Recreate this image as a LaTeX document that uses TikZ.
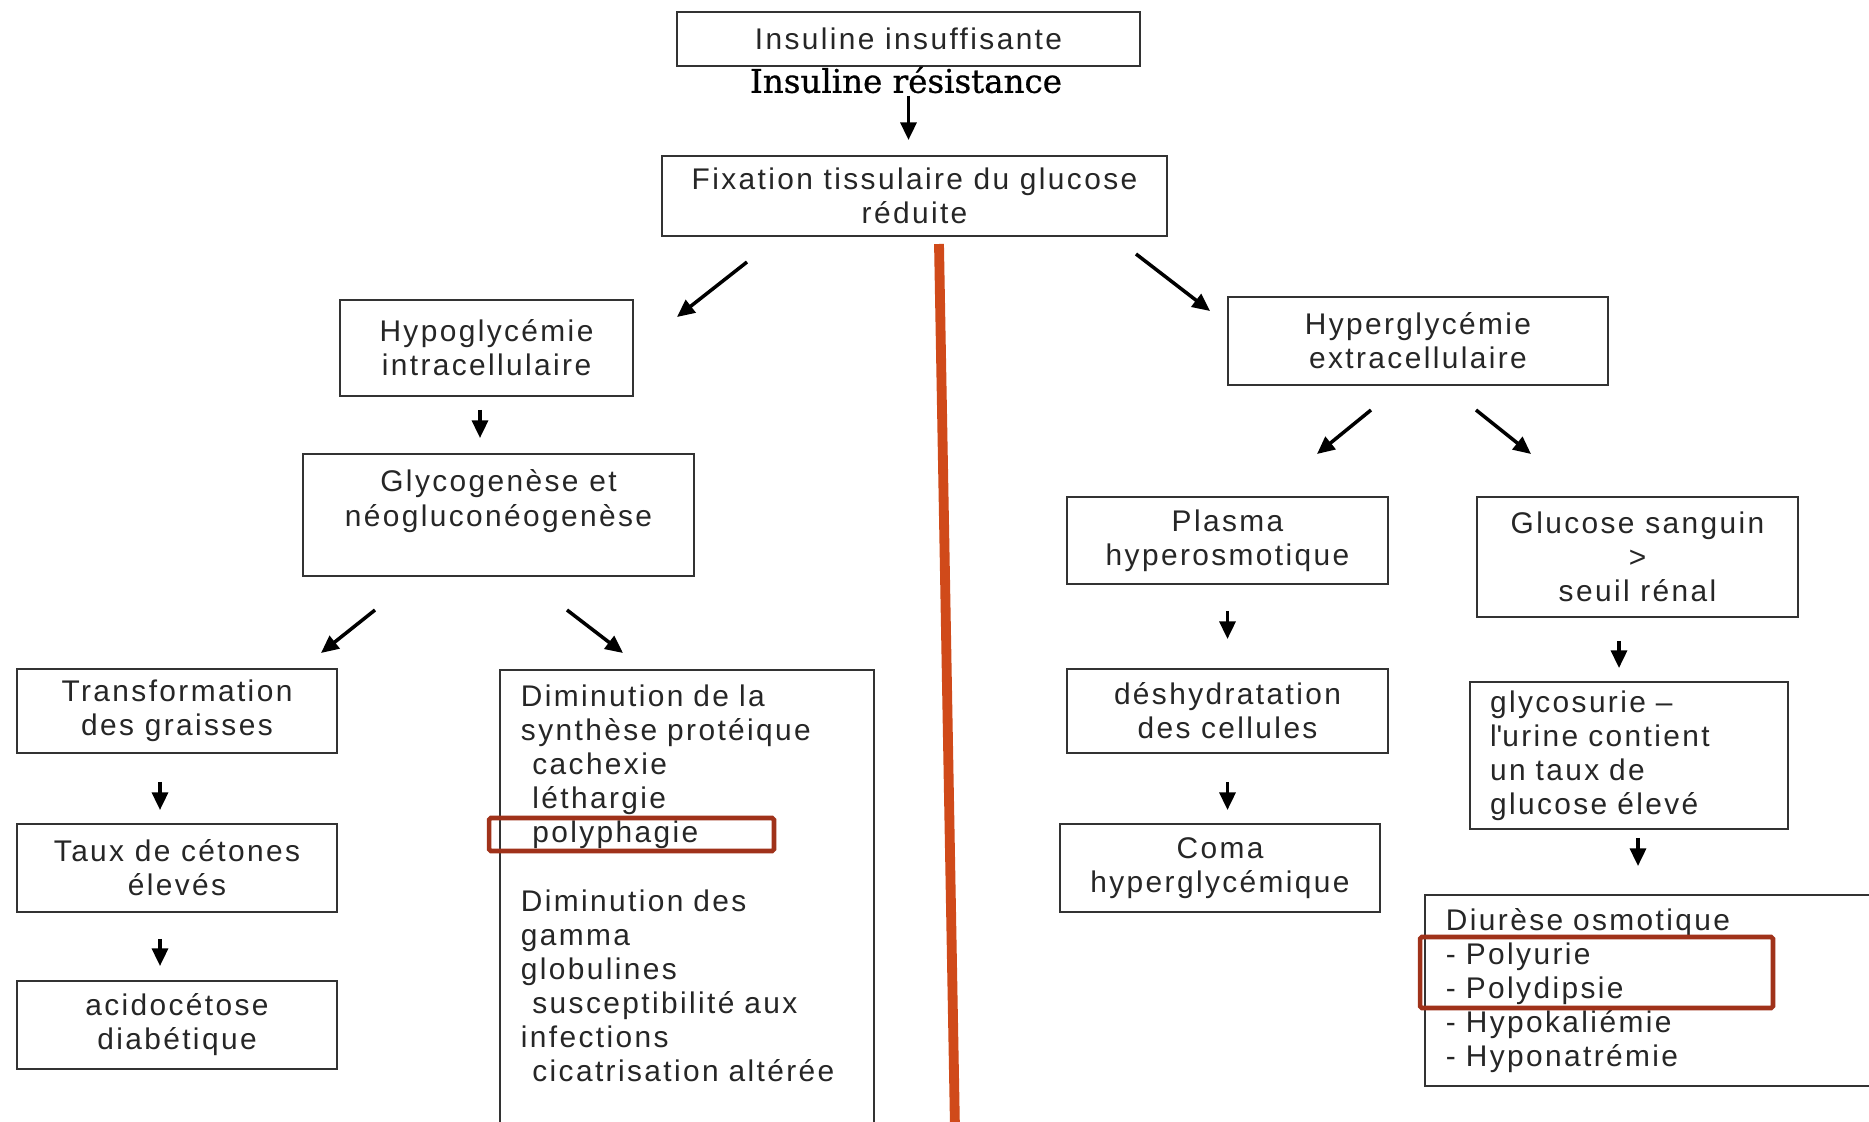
\documentclass[tikz,border=0pt]{standalone}
\usepackage{fontspec}
\setmainfont{Liberation Sans}[LetterSpace=8, Ligatures=NoCommon]
\newfontfamily\resfont{DejaVu Serif}[FakeBold=0.8]
\usepackage{xcolor}
\usepackage{tikz}
\usetikzlibrary{
    positioning,
    arrows.meta,
}
\definecolor{divider}{HTML}{D04A1A}
\definecolor{hilite}{HTML}{A0321A}
\newcommand{\boxfont}{\fontsize{17pt}{19.4pt}\selectfont}
\tikzset{
    % Box styles
    box/.style={rectangle, draw=black!80, line width=1.1pt, align=center,
                inner sep=2pt, text=black!85, font=\boxfont},
    list box/.style={box, align=left, inner xsep=0.42cm},
    % Arrow styles
    arr/.style={-{Triangle[length=10pt, width=9pt]}, line width=2pt},
    % Highlight styles
    hl/.style={rectangle, draw=hilite, line width=2.6pt, rounded corners=1pt,
               inner sep=0pt},
    cut/.style={draw=divider, line width=5.6pt},
}
\newcommand{\ind}{\hspace*{6.5pt}}

\begin{document}
\begin{tikzpicture}[x=0.02cm, y=-0.02cm]
    \clip (0,0) rectangle (1869,1122);
    \fill[white] (0,0) rectangle (1869,1122);

    % Top
    \node[box, minimum width=9.26cm, minimum height=1.08cm] (insuf) at (908.5,39) {Insuline insuffisante};
    \node[font=\resfont\fontsize{18.5pt}{20pt}\selectfont, inner sep=0pt] (resist) at (906,80) {Insuline résistance};
    \node[box, minimum width=10.1cm, minimum height=1.6cm] (fix) at (914.5,196) {Fixation tissulaire du glucose\\réduite};
    \draw[arr, shorten <=0.58cm, shorten >=0.3cm] (insuf.south) -- (insuf.south |- fix.north);

    % Divider
    \draw[cut] (939,244) -- (955,1130);

    % Left branch
    \node[box, minimum width=5.86cm, minimum height=1.92cm] (hypo) at (486.5,348) {Hypoglycémie\\intracellulaire};
    \node[box, minimum width=7.82cm, minimum height=2.44cm] (glyco) at (498.5,515) {Glycogenèse et\\néogluconéogenèse\\~};
    \node[box, minimum width=6.4cm, minimum height=1.68cm] (trans) at (177,711) {Transformation\\des graisses};
    \node[box, minimum width=6.4cm, minimum height=1.76cm] (taux) at (177,868) {Taux de cétones\\élevés};
    \node[box, minimum width=6.4cm, minimum height=1.76cm] (acido) at (177,1025) {acidocétose\\diabétique};
    \node[list box, text width=6.64cm, inner ysep=0.3cm, anchor=north west] (dimin) at (499,669) {%
        Diminution de la\\synthèse protéique\\\ind cachexie\\\ind léthargie\\\ind polyphagie\\[19.4pt]%
        Diminution des\\gamma\\globulines\\\ind susceptibilité aux\\infections\\\ind cicatrisation altérée\\~\\~};
    \node[hl, minimum width=5.7cm, minimum height=0.66cm] (hlpoly) at (631.5,834.5) {};

    \coordinate (fixL) at (747,262);
    \coordinate (hypoT) at (677,317);
    \coordinate (glycoL) at (375,610);
    \coordinate (transT) at (321,653);
    \coordinate (glycoR) at (567,610);
    \coordinate (diminT) at (623,653);
    \draw[arr] (fixL) -- (hypoT);
    \draw[arr, shorten <=0.26cm, shorten >=0.3cm] ([xshift=-0.13cm]hypo.south) -- ([xshift=-0.13cm]hypo.south |- glyco.north);
    \draw[arr] (glycoL) -- (transT);
    \draw[arr] (glycoR) -- (diminT);
    \draw[arr, shorten <=0.56cm, shorten >=0.26cm] ([xshift=-0.34cm]trans.south) -- ([xshift=-0.34cm]taux.north);
    \draw[arr, shorten <=0.52cm, shorten >=0.28cm] ([xshift=-0.34cm]taux.south) -- ([xshift=-0.34cm]acido.north);

    % Right branch
    \node[box, minimum width=7.6cm, minimum height=1.76cm] (hyper) at (1418,341) {Hyperglycémie\\extracellulaire};
    \node[box, minimum width=6.42cm, minimum height=1.74cm] (plasma) at (1227.5,540.5) {Plasma\\hyperosmotique};
    \node[box, minimum width=6.42cm, minimum height=1.68cm] (desh) at (1227.5,711) {déshydratation\\des cellules};
    \node[box, minimum width=6.4cm, minimum height=1.76cm] (coma) at (1220,868) {Coma\\hyperglycémique};
    \node[box, minimum width=6.42cm, minimum height=2.4cm] (gluc) at (1637.5,557) {Glucose sanguin\\>\\seuil rénal};
    \node[list box, text width=5.56cm, inner xsep=0.4cm, minimum height=2.94cm] (glycos) at (1629,755.5) {%
        glycosurie --\\l\textquotesingle urine contient\\un taux de\\glucose élevé};
    \node[list box, text width=9cm, minimum height=3.82cm, anchor=west] (diur) at (1424,990.5) {%
        Diurèse osmotique\\- Polyurie\\- Polydipsie\\- Hypokaliémie\\- Hyponatrémie};
    \node[hl, minimum width=7.06cm, minimum height=1.42cm] (hlpolyu) at (1596.5,972.5) {};

    \coordinate (fixR) at (1136,254);
    \coordinate (hyperT) at (1210,311);
    \coordinate (hyperL) at (1371,410);
    \coordinate (plasmaT) at (1317,454);
    \coordinate (hyperR) at (1476,410);
    \coordinate (glucT) at (1531,454);
    \draw[arr] (fixR) -- (hyperT);
    \draw[arr] (hyperL) -- (plasmaT);
    \draw[arr] (hyperR) -- (glucT);
    \draw[arr, shorten <=0.52cm, shorten >=0.58cm] (plasma.south) -- (desh.north);
    \draw[arr, shorten <=0.56cm, shorten >=0.26cm] (desh.south) -- (desh.south |- coma.north);
    \draw[arr, shorten <=0.46cm, shorten >=0.26cm] ([xshift=-0.37cm]gluc.south) -- ([xshift=-0.37cm]gluc.south |- glycos.north);
    \draw[arr, shorten <=0.16cm, shorten >=0.56cm] ([xshift=0.18cm]glycos.south) -- ([xshift=0.18cm]glycos.south |- diur.north);
\end{tikzpicture}
\end{document}
